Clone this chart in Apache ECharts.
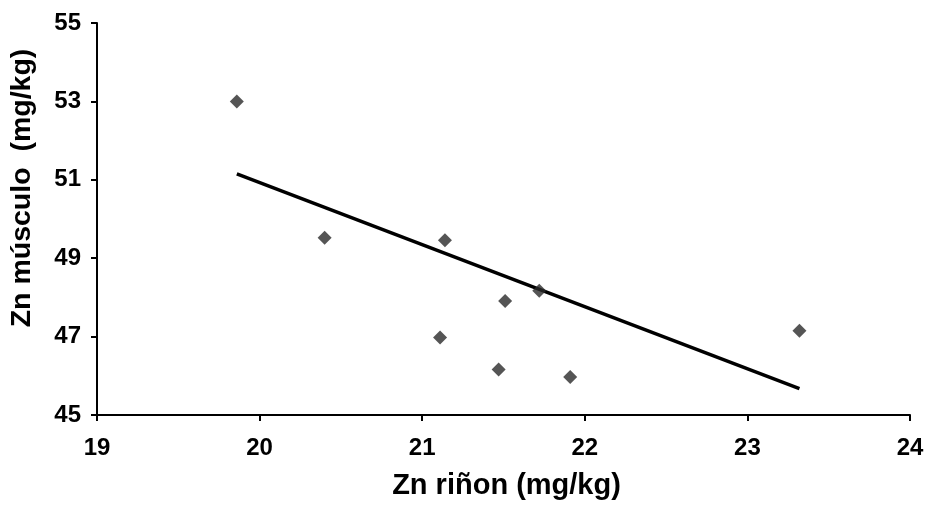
<!DOCTYPE html>
<html>
<head>
<meta charset="utf-8">
<script src="https://cdn.jsdelivr.net/npm/echarts@6/dist/echarts.min.js"></script>
<style>
  html, body { margin: 0; padding: 0; background: #ffffff; }
  #chart { width: 928px; height: 506px; }
</style>
</head>
<body>
<div id="chart"></div>
<script>
// Zinc in kidney (x) vs zinc in muscle (y), mg/kg
const zincKidney = [19.86, 20.40, 21.14, 21.51, 21.72, 21.11, 21.47, 21.91, 23.32];
const zincMuscle = [53.00, 49.52, 49.46, 47.91, 48.17, 46.98, 46.16, 45.97, 47.15];

// Linear trend line end points
const trendX = [19.86, 23.32];
const trendY = [51.15, 45.67];

const xTicks = { min: 19, max: 24, step: 1 };
const yTicks = { min: 45, max: 55, step: 2 };

const points = zincKidney.map((x, i) => [x, zincMuscle[i]]);
const trend = trendX.map((x, i) => [x, trendY[i]]);

const fontFamily = '"Liberation Sans", Arial, sans-serif';

const axisCommon = {
  axisLine: { show: true, onZero: false, lineStyle: { color: '#000', width: 2 } },
  axisTick: { show: true, inside: false, length: 6, lineStyle: { color: '#000', width: 2 } },
  splitLine: { show: false },
  axisLabel: { color: '#000', fontSize: 24, fontWeight: 'bold', fontFamily: fontFamily },
  nameTextStyle: { color: '#000', fontSize: 29, fontWeight: 'bold', fontFamily: fontFamily }
};

const chart = echarts.init(document.getElementById('chart'), null, { renderer: 'canvas' });
chart.setOption({
  animation: false,
  backgroundColor: '#ffffff',
  grid: { left: 97, top: 23, width: 813, height: 392, containLabel: false },
  xAxis: Object.assign({}, axisCommon, {
    type: 'value',
    min: xTicks.min, max: xTicks.max, interval: xTicks.step,
    name: 'Zn riñon (mg/kg)',
    nameLocation: 'middle',
    nameGap: 56,
    nameTextStyle: Object.assign({}, axisCommon.nameTextStyle, { padding: [0, 0, 0, 6] }),
    axisLabel: Object.assign({}, axisCommon.axisLabel, { margin: 21 })
  }),
  yAxis: Object.assign({}, axisCommon, {
    type: 'value',
    min: yTicks.min, max: yTicks.max, interval: yTicks.step,
    name: 'Zn músculo  (mg/kg)',
    nameLocation: 'middle',
    nameGap: 60,
    nameTextStyle: Object.assign({}, axisCommon.nameTextStyle, { fontSize: 28.5, padding: [0, 0, 0, 62] }),
    axisLabel: Object.assign({}, axisCommon.axisLabel, { margin: 16 })
  }),
  series: [
    {
      type: 'line',
      data: trend,
      symbol: 'none',
      lineStyle: { color: '#000', width: 3.5 },
      silent: true,
      z: 2
    },
    {
      type: 'scatter',
      data: points,
      symbol: 'diamond',
      symbolSize: 14,
      itemStyle: { color: '#2b2b2b' },
      z: 3
    }
  ]
});
</script>
</body>
</html>
